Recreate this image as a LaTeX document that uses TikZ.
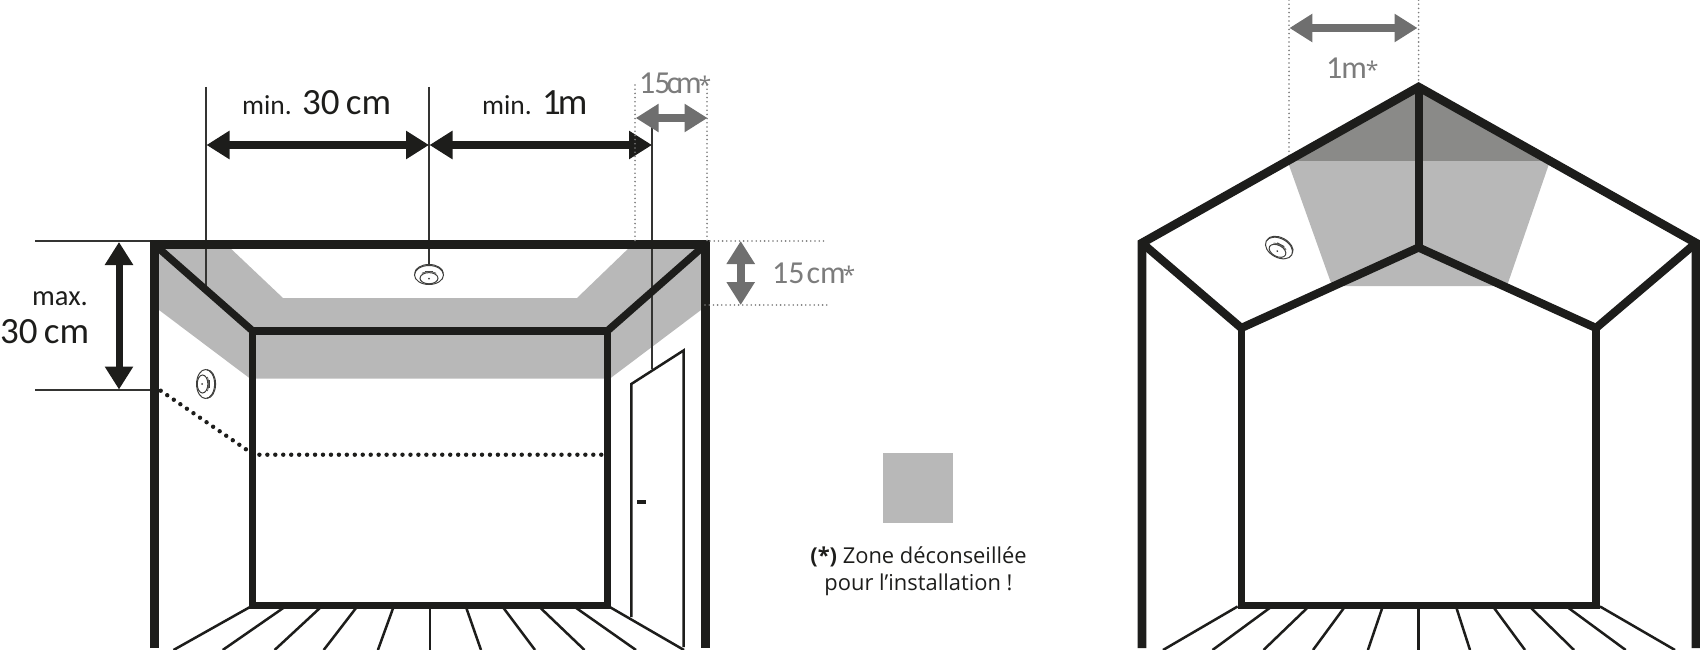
\documentclass[tikz,border=0pt]{standalone}
\usepackage{fontspec}
\setmainfont{Carlito}
\newfontfamily\legendfont{Open Sans}
\usetikzlibrary{arrows.meta}
\definecolor{ink}{HTML}{1D1D1B}
\definecolor{zone}{HTML}{B8B8B8}
\definecolor{zonedark}{HTML}{8A8A88}
\definecolor{dimgray}{HTML}{6F6F6F}
\definecolor{txtgray}{HTML}{7C7C7C}
\tikzset{
  wall/.style={draw=ink,line width=8.6pt,miter limit=10},
  inner/.style={draw=ink,line width=7.4pt,miter limit=10},
  innerroof/.style={draw=ink,line width=8.2pt,miter limit=10},
  floorline/.style={draw=ink,line width=2.5pt},
  thinline/.style={draw=ink!90,line width=1.8pt},
  dooredge/.style={draw=ink,line width=2.5pt},
  blackdots/.style={draw=ink,line width=4.4pt,line cap=round,dash pattern=on 0pt off 7.95pt},
  graydots/.style={draw=txtgray,line width=1.8pt,line cap=round,dash pattern=on 0pt off 4.2pt},
  bigarrow/.style={draw=ink,line width=8pt,{Triangle[length=23pt,width=27pt,fill=ink]}-{Triangle[length=23pt,width=27pt,fill=ink]}},
  vblack/.style={draw=ink,line width=7pt,{Triangle[length=23pt,width=27pt,fill=ink]}-{Triangle[length=23pt,width=27pt,fill=ink]}},
  grayarrow/.style={draw=dimgray,line width=8pt,{Triangle[length=23pt,width=27pt,fill=dimgray]}-{Triangle[length=23pt,width=27pt,fill=dimgray]}},
  blacktxt/.style={anchor=base west,inner sep=0pt,text=ink},
  graytxt/.style={anchor=base west,inner sep=0pt,text=txtgray},
  legendtxt/.style={anchor=base,inner sep=0pt,text=ink,font=\legendfont\fontsize{21.9}{26}\selectfont},
  detector/.pic={
    \draw[ink!85,line width=1pt,fill=white] (0,0) ellipse (14.5 and 9.5);
    \draw[ink!85,line width=1pt] (-14.3,-1.5) arc[start angle=180,end angle=360,x radius=14.3,y radius=9];
    \draw[ink!85,line width=1pt] (0,3.2) ellipse (9 and 5.6);
    \fill[ink!85] (-4,-4.2) rectangle (4,-2.6);
    \draw[ink!70,line width=0.8pt] (-7,-1.5) arc[start angle=180,end angle=360,x radius=7,y radius=1.5];
    \fill[ink!85] (0,3.6) circle (1);
  }
}
\newcommand{\graystar}{{\legendfont\fontsize{23}{28}\selectfont *}}
\begin{document}
\begin{tikzpicture}[x=1pt,y=-1pt]
\useasboundingbox (0,0) rectangle (1700,650);
\clip (0,0) rectangle (1700,650);
% ---------------- left room
\coordinate (lTL) at (154.6,244.7);
\coordinate (lTR) at (705.3,244.7);
\coordinate (lBL) at (154.6,648);
\coordinate (lBR) at (705.3,648);
\coordinate (iTL) at (252.5,330.8);
\coordinate (iTR) at (607.5,330.8);
\coordinate (iBL) at (252.5,605.2);
\coordinate (iBR) at (607.5,605.2);
\fill[zone] (155,245) -- (155,307) -- (250,378.5) -- (610,378.5) -- (705,307) -- (705,245) -- (632,245) -- (577,298) -- (283,298) -- (227,245) -- cycle;
% dim helper lines
\coordinate (a1) at (206.3,87);   \coordinate (a1b) at (206.3,288);
\coordinate (a2) at (429,87);     \coordinate (a2b) at (429,266);
\coordinate (a3) at (652,127);    \coordinate (a3b) at (652,369);
\coordinate (h1) at (35,241);     \coordinate (h1b) at (151,241);
\coordinate (h2) at (35,390);     \coordinate (h2b) at (151,390);
\draw[thinline] (a1) -- (a1b);
\draw[thinline] (a2) -- (a2b);
\draw[thinline] (a3) -- (a3b);
\draw[thinline] (h1) -- (h1b);
\draw[thinline] (h2) -- (h2b);
% door
\coordinate (dBL) at (631.3,617);
\coordinate (dTL) at (631.3,384);
\coordinate (dTR) at (683.5,350.5);
\coordinate (dBR) at (683.5,647);
\draw[dooredge] (dBL) -- (dTL) -- (dTR) -- (dBR);
\coordinate (hdA) at (637,502);
\coordinate (hdB) at (646,502);
\draw[draw=ink,line width=3.2pt] (hdA) -- (hdB);
% floor
\foreach \t/\b in {250/173.5,284.7/222.7,321/274.6,356.8/323.7,393.5/377.9,429.8/429.8,466/481,502.8/535,539.5/584.5,574.8/636,609.7/684}{
  \draw[floorline] (\t,607) -- (\b,650);
}
% dotted
\coordinate (dt1) at (160.7,390.7);
\coordinate (dt2) at (247,450);
\coordinate (dt3) at (259.4,454.7);
\coordinate (dt4) at (601.5,454.7);
\draw[blackdots] (dt1) -- (dt2);
\draw[blackdots] (dt3) -- (dt4);
% structure
\draw[wall] (lBL) -- (lTL) -- (lTR) -- (lBR);
\draw[inner] (iTL) -- (iTR) -- (iBR) -- (iBL) -- cycle;
\draw[inner] (lTL) -- (iTL);
\draw[inner] (lTR) -- (iTR);
% detectors
\pic at (429,275) {detector};
\pic[rotate=-90,yscale=0.95] at (205.6,384) {detector};
% dims
\coordinate (m1) at (206.5,145);
\coordinate (m2) at (429,145);
\coordinate (m3) at (429.5,145);
\coordinate (m4) at (652,145);
\draw[bigarrow] (m1) -- (m2);
\draw[bigarrow] (m3) -- (m4);
\coordinate (v1) at (119,242);
\coordinate (v2) at (119,389.5);
\draw[vblack] (v1) -- (v2);
\coordinate (g1) at (635.7,118);
\coordinate (g2) at (707.5,118);
\draw[grayarrow] (g1) -- (g2);
\coordinate (g3) at (740.7,241);
\coordinate (g4) at (740.7,305);
\draw[grayarrow] (g3) -- (g4);
\coordinate (d1) at (635,85);  \coordinate (d1b) at (635,241);
\coordinate (d2) at (707,85);  \coordinate (d2b) at (707,241);
\coordinate (d3) at (710,241); \coordinate (d3b) at (827,241);
\coordinate (d4) at (705,305); \coordinate (d4b) at (827,305);
\draw[graydots] (d1) -- (d1b);
\draw[graydots] (d2) -- (d2b);
\draw[graydots] (d3) -- (d3b);
\draw[graydots] (d4) -- (d4b);
% texts
\node[blacktxt,font=\fontsize{27.5}{30}\selectfont] (tmin1) at (242,115) {min.};
\node[blacktxt,font=\fontsize{37}{40}\selectfont] (t30a) at (302,115) {30\,cm};
\node[blacktxt,font=\fontsize{27.5}{30}\selectfont] (tmin2) at (482,115) {min.};
\node[blacktxt,font=\fontsize{37}{40}\selectfont] (t1m) at (542,115) {1\kern-3pt m};
\node[graytxt,font=\fontsize{32}{36}\selectfont] (t15a) at (639,93.5) {1\kern-1pt 5\kern-4pt c\kern-4pt m\kern-3pt\graystar};
\node[graytxt,font=\fontsize{32}{36}\selectfont] (t15b) at (772,283.5) {15\kern2pt cm\kern-3pt\graystar};
\node[blacktxt,font=\fontsize{28.5}{30}\selectfont] (tmax) at (32,305) {max.};
\node[blacktxt,font=\fontsize{37}{40}\selectfont] (t30b) at (0,343) {30\,cm};
% legend
\fill[zone] (883,453.3) rectangle (952.7,523.3);
\node[legendtxt] (leg1) at (918.5,563) {\textbf{(*)} Zone déconseillée};
\node[legendtxt] (leg2) at (918.5,590) {pour l’installation !};
% ---------------- right room
\coordinate (rL) at (1142,243);
\coordinate (rA) at (1418.6,87);
\coordinate (rR) at (1696,243);
\coordinate (rLb) at (1142,648);
\coordinate (rRb) at (1696,648);
\coordinate (jA) at (1418.6,247.5);
\coordinate (jL) at (1241.3,328);
\coordinate (jR) at (1596,328);
\coordinate (jLb) at (1241.3,605.3);
\coordinate (jRb) at (1596,605.3);
\fill[zone] (1287.5,161) -- (1331,283) -- (1342,286) -- (1497,286) -- (1508,283) -- (1550,161) -- cycle;
\fill[zonedark] (1287.5,161) -- (rA) -- (1550,161) -- cycle;
\foreach \t/\b in {1237.6/1163,1271.7/1212.5,1308.7/1263.5,1345/1313,1382.7/1367.9,1418.6/1418.6,1456/1470,1493/1525,1529.5/1574,1566.5/1625.7,1600/1675}{
  \draw[floorline] (\t,606.5) -- (\b,650);
}
\coordinate (q1) at (1289,0); \coordinate (q1b) at (1289,160);
\coordinate (q2) at (1418.6,0); \coordinate (q2b) at (1418.6,82);
\draw[graydots] (q1) -- (q1b);
\draw[graydots] (q2) -- (q2b);
\draw[wall] (rLb) -- (rL) -- (rA) -- (rR) -- (rRb);
\draw[innerroof] (jL) -- (jA) -- (jR);
\draw[inner] (jL) -- (jLb) -- (jRb) -- (jR);
\draw[innerroof] (rL) -- (jL);
\draw[innerroof] (rR) -- (jR);
\draw[innerroof] (rA) -- (jA);
\pic[rotate=-28] at (1279,248) {detector};
\coordinate (p1) at (1289.4,28);
\coordinate (p2) at (1417.5,28);
\draw[grayarrow] (p1) -- (p2);
\node[graytxt,font=\fontsize{32}{36}\selectfont] (t1mstar) at (1326,78.5) {1\kern-1pt m\kern-1pt\graystar};
\end{tikzpicture}
\end{document}
